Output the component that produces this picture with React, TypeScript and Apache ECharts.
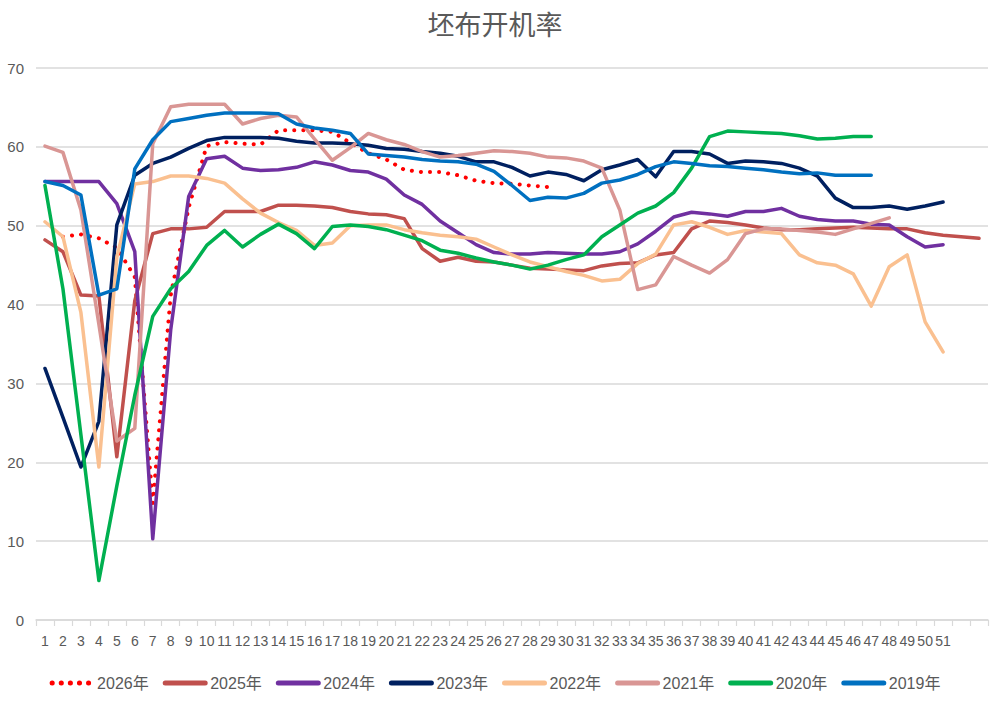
import React, { useEffect, useRef } from "react";
import * as echarts from "echarts";

const weeks: string[] = [
  "1","2","3","4","5","6","7","8","9","10","11","12","13","14","15","16","17","18","19","20",
  "21","22","23","24","25","26","27","28","29","30","31","32","33","34","35","36","37","38","39","40",
  "41","42","43","44","45","46","47","48","49","50","51","","",
];

const y2026 = [null, 48.6, 48.9, 48.4, 47.2, 43.5, 14.8, 41.2, 52.3, 60.1, 60.6, 60.4, 60.3, 62.1, 62.1, 62.1, 61.9, 60.5, 59.2, 58.4, 57.1, 56.8, 56.8, 56.4, 55.7, 55.4, 55.3, 55.1, 54.9];
const y2025 = [48.2, 46.7, 41.2, 41.1, 20.7, 40.5, 49.0, 49.6, 49.6, 49.8, 51.8, 51.8, 51.8, 52.6, 52.6, 52.5, 52.3, 51.8, 51.5, 51.4, 50.9, 47.1, 45.5, 46.0, 45.5, 45.4, 45.0, 44.6, 44.5, 44.4, 44.3, 44.9, 45.2, 45.3, 46.3, 46.6, 49.6, 50.6, 50.4, 50.1, 49.7, 49.5, 49.5, 49.6, 49.7, 49.8, 49.7, 49.6, 49.6, 49.1, 48.8, 48.6, 48.4];
const y2024 = [55.6, 55.6, 55.6, 55.6, 52.8, 46.7, 10.3, 36.8, 53.7, 58.5, 58.8, 57.3, 57.0, 57.1, 57.4, 58.1, 57.7, 57.0, 56.8, 55.9, 53.9, 52.7, 50.6, 49.1, 47.6, 46.6, 46.4, 46.4, 46.6, 46.5, 46.4, 46.4, 46.7, 47.7, 49.3, 51.1, 51.7, 51.5, 51.2, 51.8, 51.8, 52.2, 51.2, 50.8, 50.6, 50.6, 50.2, 50.1, 48.6, 47.3, 47.6];
const y2023 = [31.9, 25.7, 19.4, 25.2, 50.1, 56.4, 57.9, 58.7, 59.8, 60.8, 61.2, 61.2, 61.2, 61.1, 60.7, 60.5, 60.5, 60.4, 60.2, 59.8, 59.7, 59.4, 59.2, 58.8, 58.1, 58.1, 57.4, 56.3, 56.8, 56.5, 55.7, 57.1, 57.7, 58.4, 56.2, 59.4, 59.4, 59.1, 57.9, 58.2, 58.1, 57.9, 57.3, 56.3, 53.5, 52.3, 52.3, 52.5, 52.1, 52.5, 53.0];
const y2022 = [50.5, 48.6, 39.0, 19.4, 46.0, 55.3, 55.6, 56.3, 56.3, 56.0, 55.4, 53.4, 51.6, 50.4, 49.4, 47.5, 47.8, 50.0, 50.1, 50.1, 49.5, 49.1, 48.8, 48.6, 48.3, 47.3, 46.3, 45.4, 44.8, 44.2, 43.7, 43.0, 43.2, 45.2, 46.4, 50.1, 50.5, 49.8, 48.9, 49.4, 49.2, 49.0, 46.3, 45.3, 45.0, 43.9, 39.8, 44.8, 46.3, 37.8, 34.0];
const y2021 = [60.1, 59.3, 52.0, 37.5, 22.7, 24.3, 60.4, 65.1, 65.4, 65.4, 65.4, 62.9, 63.6, 64.0, 63.8, 61.0, 58.3, 59.9, 61.7, 60.9, 60.3, 59.4, 58.7, 58.9, 59.2, 59.5, 59.4, 59.2, 58.7, 58.6, 58.2, 57.3, 52.0, 41.9, 42.5, 46.1, 45.0, 44.0, 45.7, 49.0, 49.6, 49.6, 49.4, 49.2, 48.9, 49.6, 50.3, 51.0];
const y2020 = [55.1, 42.0, 23.5, 5.0, 17.0, 28.5, 38.5, 42.0, 44.2, 47.5, 49.4, 47.3, 48.9, 50.2, 49.0, 47.1, 49.9, 50.1, 49.9, 49.5, 48.8, 48.1, 46.9, 46.5, 45.9, 45.4, 45.0, 44.5, 45.0, 45.7, 46.3, 48.6, 50.1, 51.6, 52.5, 54.2, 57.3, 61.3, 62.0, 61.9, 61.8, 61.7, 61.4, 61.0, 61.1, 61.3, 61.3];
const y2019 = [55.6, 55.1, 53.9, 41.2, 42.0, 57.2, 60.9, 63.2, 63.6, 64.0, 64.3, 64.3, 64.3, 64.2, 62.9, 62.4, 62.1, 61.7, 59.1, 58.9, 58.7, 58.4, 58.2, 58.1, 57.8, 56.9, 55.1, 53.2, 53.6, 53.5, 54.1, 55.4, 55.8, 56.5, 57.5, 58.1, 57.9, 57.6, 57.5, 57.3, 57.1, 56.8, 56.6, 56.7, 56.4, 56.4, 56.4];

const seriesNames = ["2026年", "2025年", "2024年", "2023年", "2022年", "2021年", "2020年", "2019年"];
const seriesData = [y2026, y2025, y2024, y2023, y2022, y2021, y2020, y2019];
const seriesColors = ["#FF0000", "#C0504D", "#7030A0", "#002060", "#FAC090", "#D99694", "#00B050", "#0070C0"];

const yTicks = { min: 0, max: 70, interval: 10 };

const FONT = '"Liberation Sans", "Noto Sans CJK SC", sans-serif';

export default function App() {
  const ref = useRef<HTMLDivElement>(null);
  useEffect(() => {
    document.body.style.margin = "0";
    if (!ref.current) return;
    const chart = echarts.init(ref.current, null, { renderer: "svg" });
    const series = seriesNames.map((name, i) => ({
      name,
      type: "line",
      data: seriesData[i],
      symbol: "none",
      showSymbol: false,
      connectNulls: false,
      lineStyle:
        i === 0
          ? { color: seriesColors[i], width: 4, type: [0.1, 9], cap: "round", join: "round" }
          : { color: seriesColors[i], width: 3.5, cap: "round", join: "round" },
      itemStyle: { color: seriesColors[i] },
    }));
    chart.setOption({
      animation: false,
      backgroundColor: "#ffffff",
      title: {
        text: "坯布开机率",
        left: "center",
        top: 5,
        textStyle: {
          fontSize: 27,
          fontWeight: "normal",
          color: "#595959",
          fontFamily: '"Noto Sans CJK SC", sans-serif',
        },
      },
      legend: {
        left: "center",
        top: 670,
        itemWidth: 40,
        itemHeight: 14,
        itemGap: 14,
        data: seriesNames,
        itemStyle: { opacity: 0 },
        lineStyle: { width: 5, cap: "round" },
        textStyle: { fontSize: 16, color: "#595959", fontFamily: FONT },
      },
      grid: {
        left: 36,
        right: 2,
        top: 68,
        bottom: 82,
        containLabel: false,
        outerBoundsMode: "none",
      },
      xAxis: {
        type: "category",
        data: weeks,
        boundaryGap: true,
        axisLine: { show: true, lineStyle: { color: "#d9d9d9", width: 1.5 } },
        axisTick: { show: true, length: 6, lineStyle: { color: "#d9d9d9", width: 1.2 } },
        axisLabel: {
          interval: 0,
          margin: 14,
          fontSize: 14,
          color: "#595959",
          fontFamily: FONT,
        },
      },
      yAxis: {
        type: "value",
        min: yTicks.min,
        max: yTicks.max,
        interval: yTicks.interval,
        axisLine: { show: false },
        axisTick: { show: false },
        axisLabel: { fontSize: 15, color: "#595959", margin: 12, fontFamily: FONT },
        splitLine: { lineStyle: { color: "#d9d9d9", width: 1.5 } },
      },
      series,
    });
    return () => chart.dispose();
  }, []);
  return <div ref={ref} style={{ width: 990, height: 702 }} />;
}
